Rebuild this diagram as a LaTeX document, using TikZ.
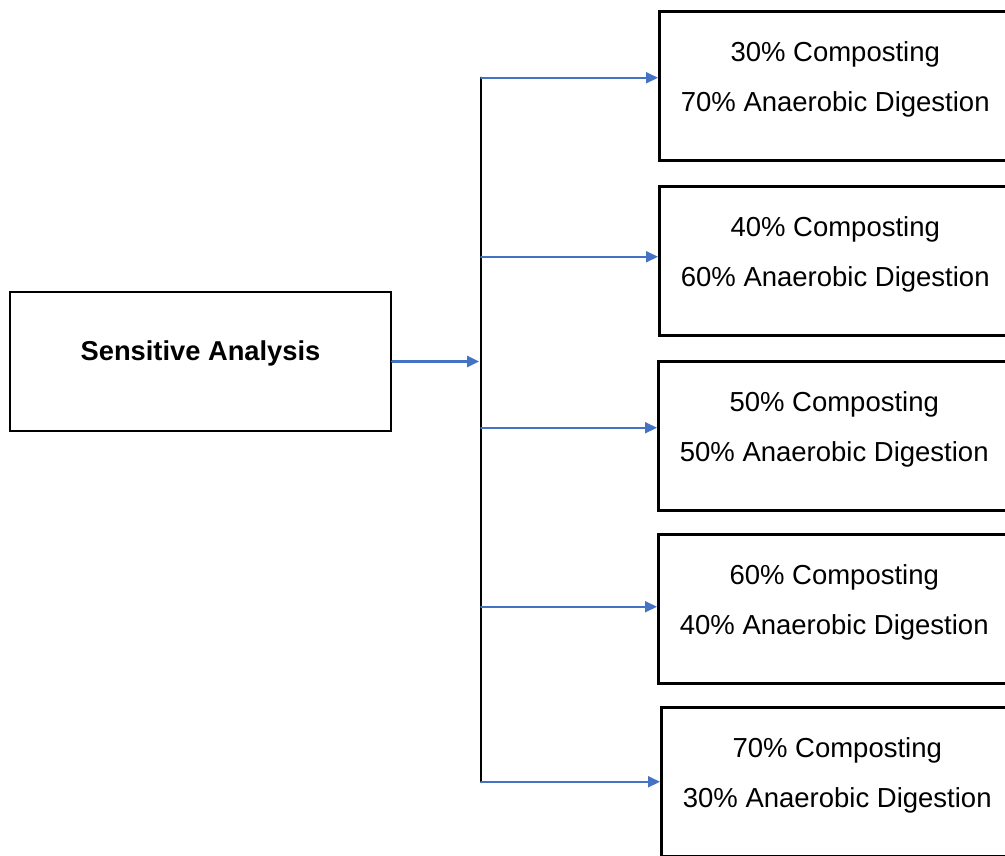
\documentclass[tikz,border=0pt]{standalone}
\usepackage{fontspec}
\setmainfont{Liberation Sans}
\usetikzlibrary{arrows.meta}

\definecolor{arrowblue}{RGB}{68,114,196}

\begin{document}
\begin{tikzpicture}[x=1pt, y=-1pt, line cap=round,
    box/.style={draw, rectangle, line width=2.5pt, minimum width=362pt, minimum height=149pt, anchor=north west},
    mix/.style={align=center, font=\fontsize{27.5}{50}\selectfont, yshift=6pt, xshift=-5pt},
    feed/.style={draw=arrowblue, line width=2pt, -{Triangle[length=12pt, width=11pt]}}]
      \useasboundingbox (0,0) rectangle (1005,855);
      \clip (0,0) rectangle (1005,855);

      \node[draw, line width=2.5pt, minimum width=381pt, minimum height=139pt,
        label={[font=\fontsize{27.3}{33}\selectfont\bfseries, yshift=8pt]center:Sensitive Analysis}] (sa) at (200.5,361.5) {};

      % the five mixes, boxes run off the right edge
      \node[box, label={[mix]center:30\% Composting\\70\% Anaerobic Digestion}] (mix30) at (658,10) {};

      \node[box, label={[mix]center:40\% Composting\\60\% Anaerobic Digestion}] (mix40) at (658,185) {};

      \node[box, label={[mix]center:50\% Composting\\50\% Anaerobic Digestion}] (mix50) at (657,360) {};

      \node[box, label={[mix]center:60\% Composting\\40\% Anaerobic Digestion}] (mix60) at (657,533) {};

      \node[box, label={[mix]center:70\% Composting\\30\% Anaerobic Digestion}] (mix70) at (660,706) {};

      \coordinate (trunk) at (481,0);

      \draw[line width=2.5pt] ([yshift=8pt]mix30.west -| trunk) -- (mix70.west -| trunk);

      \draw[feed, line width=2.5pt] (sa.east) -- ([xshift=-2pt]sa.east -| trunk);

      \draw[feed] ([yshift=8pt]mix30.west -| trunk) -- ([yshift=8pt]mix30.west);
      \draw[feed] ([yshift=4pt]mix40.west -| trunk) -- ([yshift=4pt]mix40.west);
      \draw[feed] ([yshift=8pt]mix50.west -| trunk) -- ([yshift=8pt]mix50.west);
      \draw[feed] ([yshift=2pt]mix60.west -| trunk) -- ([yshift=2pt]mix60.west);
      \draw[feed] (mix70.west -| trunk) -- (mix70.west);
    \end{tikzpicture}
\end{document}
